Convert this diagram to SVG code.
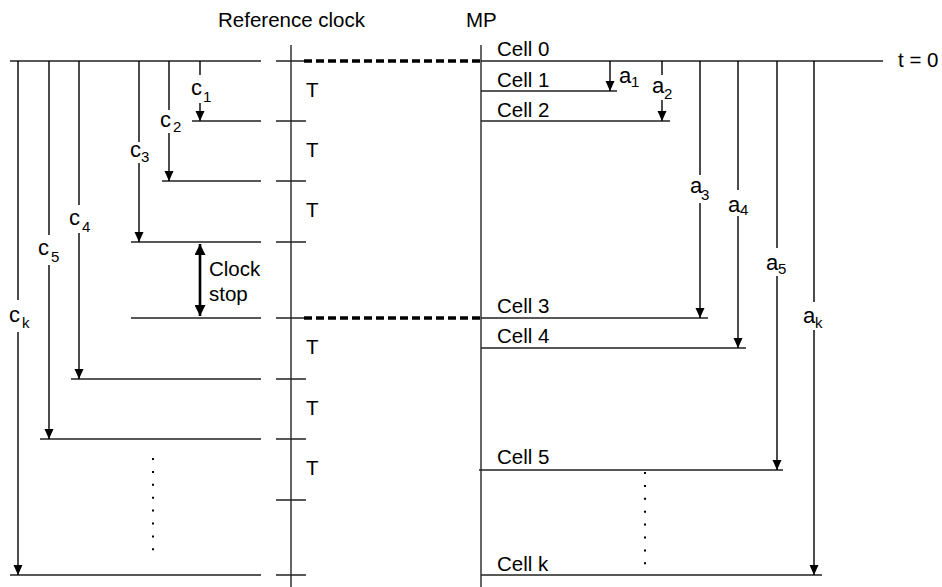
<svg xmlns="http://www.w3.org/2000/svg" width="942" height="587" viewBox="0 0 942 587">
<style>
.t{font-family:"Liberation Sans",Arial,sans-serif;font-size:20.5px;fill:#000}
.m{font-family:"Liberation Sans",Arial,sans-serif;font-size:22px;fill:#000}
.s{font-family:"Liberation Sans",Arial,sans-serif;font-size:15px;fill:#000}
.h{stroke:#222;stroke-width:1.4;fill:none}
.v{stroke:#000;stroke-width:1.4;fill:none}
.ax{stroke:#333;stroke-width:1.5;fill:none}
.arr{stroke:#000;stroke-width:1.4;fill:none;marker-end:url(#ah)}
.dash{stroke:#000;stroke-width:3.5;stroke-dasharray:8 4;fill:none}
.dots{stroke:#000;stroke-width:2;stroke-dasharray:2 10.9;fill:none}
</style>
<defs>
<marker id="ah" markerUnits="userSpaceOnUse" markerWidth="10" markerHeight="10" viewBox="0 0 10 9" refX="10" refY="4.5" orient="auto"><path d="M0,0 L10,4.5 L0,9 z" fill="#000"/></marker>
<marker id="ah2" markerUnits="userSpaceOnUse" markerWidth="11" markerHeight="11" viewBox="0 0 10 10" refX="10" refY="5" orient="auto-start-reverse"><path d="M0,0 L10,5 L0,10 z" fill="#000"/></marker>
</defs>

<g id="titles">
<text class="t" x="218" y="27">Reference clock</text>
<text class="t" x="466" y="27">MP</text>
<text class="t" x="898" y="67">t = 0</text>
</g>

<g id="reference-clock">
<line class="ax" x1="291" y1="45" x2="291" y2="587"/>
<path class="h" d="M276,61H304 M276,121H306 M276,181H306 M276,242H306 M276,318H304 M276,379H306 M276,439H306 M276,500H306 M276,575H306"/>
<text class="t" x="306" y="97">T</text>
<text class="t" x="306" y="157">T</text>
<text class="t" x="306" y="217">T</text>
<text class="t" x="306" y="354">T</text>
<text class="t" x="306" y="415">T</text>
<text class="t" x="306" y="475">T</text>
</g>

<g id="mp">
<line class="ax" x1="481" y1="45" x2="481" y2="587"/>
<path class="h" d="M481,61H883 M481,91H617 M481,121H670 M481,318H708 M481,348H746 M479,470H783 M481,575H822"/>
<text class="t" x="497" y="56">Cell 0</text>
<text class="t" x="497" y="87">Cell 1</text>
<text class="t" x="497" y="117">Cell 2</text>
<text class="t" x="497" y="313">Cell 3</text>
<text class="t" x="497" y="343">Cell 4</text>
<text class="t" x="497" y="464">Cell 5</text>
<text class="t" x="497" y="571">Cell k</text>
<path class="dots" d="M645,472V566"/>
</g>

<g id="local-clock">
<path class="h" d="M10,61H261 M192,121H261 M162,181H261 M131,242H261 M131,318H261 M71,379H261 M40,439H261 M10,575H261"/>
<path class="dots" d="M153,458V551"/>
<text class="t" x="209" y="276">Clock</text>
<text class="t" x="209" y="301">stop</text>
</g>

<g id="connectors">
<line class="dash" x1="304" y1="61" x2="481" y2="61"/>
<line class="dash" x1="304" y1="318" x2="481" y2="318"/>
<line x1="200" y1="244" x2="200" y2="316" stroke="#000" stroke-width="2.6" marker-start="url(#ah2)" marker-end="url(#ah2)"/>
<path class="v" d="M200,61V75 M169,61V110 M139,61V142 M79,61V205 M49,61V235 M18,61V300"/>
<path class="arr" d="M200,103V121"/>
<path class="arr" d="M169,133V181"/>
<path class="arr" d="M139,163V242"/>
<path class="arr" d="M79,233V379"/>
<path class="arr" d="M49,265V439"/>
<path class="arr" d="M18,332V575"/>
<path class="v" d="M662,61V75 M700,61V175 M738,61V190 M777,61V248 M814,61V302"/>
<path class="arr" d="M610,61V91"/>
<path class="arr" d="M662,100V121"/>
<path class="arr" d="M700,203V318"/>
<path class="arr" d="M738,216V348"/>
<path class="arr" d="M777,276V470"/>
<path class="arr" d="M814,330V575"/>
</g>

<g id="labels">
<text class="m" x="191" y="95">c</text><text class="s" x="203" y="102">1</text>
<text class="m" x="160" y="127">c</text><text class="s" x="173" y="132">2</text>
<text class="m" x="130" y="157">c</text><text class="s" x="141" y="162">3</text>
<text class="m" x="69" y="225">c</text><text class="s" x="82" y="232">4</text>
<text class="m" x="38" y="255">c</text><text class="s" x="51" y="262">5</text>
<text class="m" x="9" y="322">c</text><text class="s" x="22" y="328">k</text>
<text class="m" x="619" y="83">a</text><text class="s" x="631" y="87">1</text>
<text class="m" x="652" y="93">a</text><text class="s" x="664" y="99">2</text>
<text class="m" x="690" y="193">a</text><text class="s" x="701" y="200">3</text>
<text class="m" x="728" y="212">a</text><text class="s" x="740" y="215">4</text>
<text class="m" x="766" y="270">a</text><text class="s" x="778" y="274">5</text>
<text class="m" x="803" y="323">a</text><text class="s" x="815" y="328">k</text>
</g>
</svg>
